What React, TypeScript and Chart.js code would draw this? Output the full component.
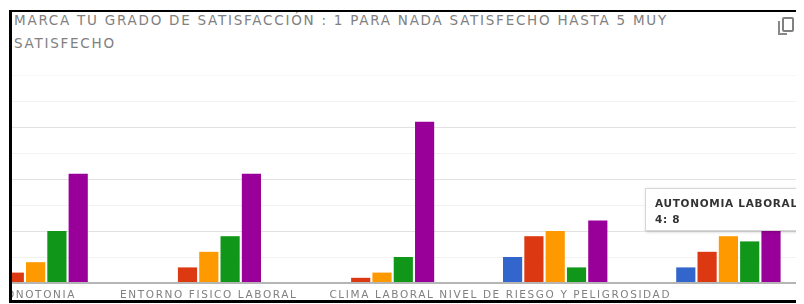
import React, { useEffect, useRef } from "react";
import { Chart, registerables } from "chart.js";

Chart.register(...registerables);

const TITLE_LINE_1 = "MARCA TU GRADO DE SATISFACCIÓN : 1 PARA NADA SATISFECHO HASTA 5 MUY";
const TITLE_LINE_2 = "SATISFECHO";

const categories = [
  "MONOTONIA",
  "ENTORNO FISICO LABORAL",
  "CLIMA LABORAL",
  "NIVEL DE RIESGO Y PELIGROSIDAD",
  "AUTONOMIA LABORAL",
];

const seriesNames = ["1", "2", "3", "4", "5"];
const series1 = [2, 0, 0, 5, 3];
const series2 = [2, 3, 1, 9, 6];
const series3 = [4, 6, 2, 10, 9];
const series4 = [10, 9, 5, 3, 8];
const series5 = [21, 21, 31, 12, 10];
const seriesColors = ["#3366cc", "#dc3912", "#ff9900", "#109618", "#990099"];

const yMax = 40;
const yStep = 5;
const hiddenLabelIndex = 4;
const tooltipSeries = 3;
const tooltipCategory = 4;

const FONT = "'DejaVu Sans', Verdana, sans-serif";

const letterSpacingPlugin = {
  id: "letterSpacing",
  beforeUpdate(chart: any) {
    (chart.ctx as any).letterSpacing = "1.6px";
  },
  beforeDraw(chart: any) {
    (chart.ctx as any).letterSpacing = "1.6px";
  },
};

export default function App() {
  const canvasRef = useRef<HTMLCanvasElement | null>(null);

  useEffect(() => {
    if (!canvasRef.current) return;
    const all = [series1, series2, series3, series4, series5];
    const chart = new Chart(canvasRef.current, {
      type: "bar",
      data: {
        labels: categories,
        datasets: all.map((d, i) => ({
          label: seriesNames[i],
          data: d,
          backgroundColor: seriesColors[i],
          borderWidth: 0,
          categoryPercentage: 0.615,
          barPercentage: 0.9,
        })),
      },
      plugins: [letterSpacingPlugin],
      options: {
        animation: false,
        responsive: false,
        maintainAspectRatio: false,
        layout: { padding: { top: 15, left: 0, right: 0, bottom: 0 } },
        plugins: {
          legend: { display: false },
          tooltip: { enabled: false },
          title: { display: false },
        },
        scales: {
          x: {
            grid: { display: false, drawTicks: false },
            border: { display: false },
            ticks: {
              autoSkip: false,
              maxRotation: 0,
              minRotation: 0,
              padding: 6,
              color: "#808080",
              font: { family: FONT, size: 10.5 },
              callback: (_v: any, i: number) => (i === hiddenLabelIndex ? "" : categories[i]),
            },
            afterFit: (s: any) => {
              s.height = 17;
            },
          },
          y: {
            min: 0,
            max: yMax,
            ticks: { display: false, stepSize: yStep },
            border: { display: false },
            grid: {
              drawTicks: false,
              color: (ctx: any) => {
                const v = ctx.tick ? ctx.tick.value : 0;
                if (v === 0) return "#b5b5b5";
                if (v === yMax) return "#f7f7f7";
                if (v % 10 === 0) return "#e2e2e2";
                return "#f2f2f2";
              },
              lineWidth: (ctx: any) => (ctx.tick && ctx.tick.value === 0 ? 2 : 1),
            },
            afterFit: (s: any) => {
              s.width = 0;
            },
          },
        },
      },
    });
    return () => chart.destroy();
  }, []);

  const tipValue = [series1, series2, series3, series4, series5][tooltipSeries][tooltipCategory];

  return (
    <div
      style={{
        position: "relative",
        margin: "-8px 0 0 -8px",
        width: 804,
        height: 304,
        overflow: "hidden",
        background: "#fff",
      }}
    >
      <div
        style={{
          position: "absolute",
          left: 9,
          top: 10,
          width: 820,
          height: 288,
          borderTop: "2px solid #000",
          borderLeft: "3px solid #000",
          borderBottom: "3px solid #000",
          overflow: "hidden",
          background: "#fff",
        }}
      >
        <canvas
          ref={canvasRef}
          width={866}
          height={240}
          style={{ position: "absolute", left: -63, top: 48, width: 866, height: 240 }}
        />
        <div
          style={{
            position: "absolute",
            left: 2,
            top: -3,
            color: "#808080",
            fontFamily: FONT,
            fontSize: 13.5,
            lineHeight: "23px",
            letterSpacing: 1.75,
            whiteSpace: "nowrap",
          }}
        >
          <div>{TITLE_LINE_1}</div>
          <div>{TITLE_LINE_2}</div>
        </div>
        <div style={{ position: "absolute", left: 766, top: 5, width: 16, height: 20 }}>
          <div
            style={{
              position: "absolute",
              left: 0,
              top: 4,
              width: 9,
              height: 14,
              borderLeft: "2px solid #888",
              borderBottom: "2px solid #888",
              boxSizing: "border-box",
            }}
          />
          <div
            style={{
              position: "absolute",
              left: 4,
              top: 0,
              width: 12,
              height: 15,
              border: "2px solid #808080",
              borderRadius: 2,
              background: "#fff",
              boxSizing: "border-box",
            }}
          />
        </div>
        <div
          style={{
            position: "absolute",
            left: 633,
            top: 176,
            width: 180,
            height: 43,
            background: "#fff",
            border: "1px solid #d6d6d6",
            boxShadow: "1px 1px 3px rgba(0,0,0,0.2)",
            fontFamily: FONT,
            fontSize: 10.5,
            color: "#333",
            boxSizing: "border-box",
            padding: "6px 0 0 9px",
            lineHeight: "16px",
            letterSpacing: 0.7,
            whiteSpace: "nowrap",
          }}
        >
          <div style={{ fontWeight: "bold" }}>{categories[tooltipCategory]}</div>
          <div style={{ fontWeight: "bold" }}>
            {seriesNames[tooltipSeries]}: {tipValue}
          </div>
        </div>
      </div>
    </div>
  );
}
